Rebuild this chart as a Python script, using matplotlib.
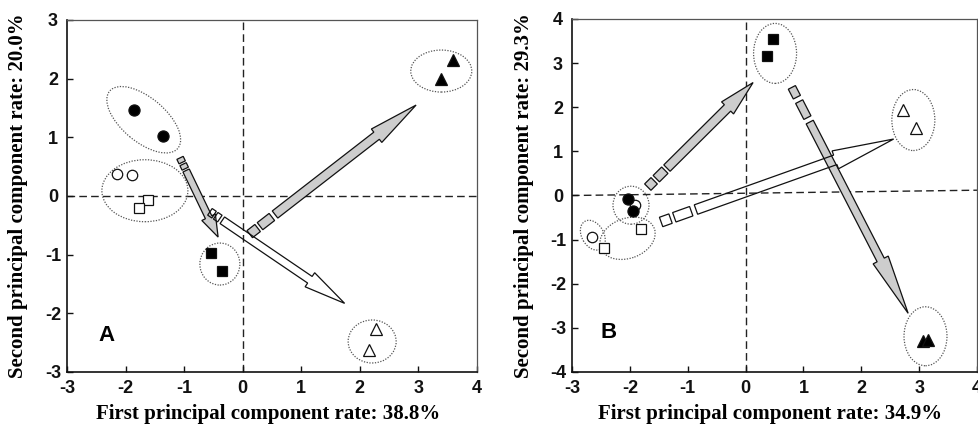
import numpy as np
import matplotlib

matplotlib.use("Agg")
import matplotlib.pyplot as plt
from matplotlib.patches import Ellipse, Polygon
from matplotlib.transforms import ScaledTranslation

# ---- data ------------------------------------------------------------------
# panel A  (PC1 38.8 %, PC2 20.0 %)
a_filled_circle = ([-1.86, -1.36], [1.47, 1.02])
a_open_circle = ([-2.14, -1.89], [0.37, 0.36])
a_open_square = ([-1.61, -1.77], [-0.06, -0.20])
a_filled_square = ([-0.54, -0.35], [-0.97, -1.28])
a_filled_triangle = ([3.59, 3.38], [2.32, 2.00])
a_open_triangle = ([2.27, 2.16], [-2.27, -2.62])

a_group_x = [-1.69, -1.67, -0.39, 3.39, 2.21]
a_group_y = [1.30, 0.09, -1.16, 2.13, -2.48]

a_arrow_start = [(-1.07, 0.65), (0.12, -0.65), (-0.56, -0.27)]
a_arrow_end = [(-0.42, -0.70), (2.96, 1.55), (1.74, -1.83)]

# panel B  (PC1 34.9 %, PC2 29.3 %)
b_filled_circle = ([-2.03, -1.95], [-0.08, -0.35])
b_open_circle = ([-1.91, -2.66], [-0.22, -0.94])
b_open_square = ([-1.81, -2.45], [-0.77, -1.18])
b_filled_square = ([0.47, 0.37], [3.55, 3.16])
b_open_triangle = ([2.72, 2.95], [1.94, 1.54])
b_filled_triangle = ([3.07, 3.16], [-3.29, -3.28])

b_group_x = [-1.98, -2.04, -2.64, 0.51, 2.90, 3.11]
b_group_y = [-0.22, -0.97, -0.90, 3.22, 1.71, -3.19]

b_arrow_start = [(-1.69, 0.19), (0.80, 2.45), (-1.46, -0.60)]
b_arrow_end = [(0.13, 2.56), (2.81, -2.67), (2.56, 1.28)]

b_hline_x = [-3, 4]
b_hline_y = [0.0, 0.12]

x_ticks = [-3, -2, -1, 0, 1, 2, 3, 4]
a_y_ticks = [-3, -2, -1, 0, 1, 2, 3]
b_y_ticks = [-4, -3, -2, -1, 0, 1, 2, 3, 4]

# ---- styling (pixel sizes, figure is drawn at 100 dpi) ----------------------
DPI = 100
GRAY = "#cdcdcd"
# ellipse (width px, height px, angle)
a_group_shape = [(89, 44, -40), (86, 62, 0), (40, 42, 0), (61, 42, 0), (48, 43, 0)]
b_group_shape = [(36, 38, 0), (57, 40, 20), (32, 22, -60), (43, 60, 0),
                 (43, 61, 0), (43, 59, 0)]
# arrow (shaft w, head w, head len, dashed pieces, shaft start, face)
a_arrow_style = [
    (7, 15, 22, [(0, 5), (7, 12)], 14, GRAY),
    (9, 17, 50, [(0, 10), (13, 28)], 32, GRAY),
    (8, 17, 42, [(0, 5), (7, 12)], 15, "none"),
]
b_arrow_style = [
    (9, 17, 36, [(0, 9), (12, 24)], 27, GRAY),
    (8, 17, 60, [(0, 11), (16, 34)], 39, GRAY),
    (10, 19, 62, [(0, 10), (14, 32)], 37, "none"),
]

TICK_FONT = dict(family="Liberation Sans", weight="bold", size=13)
LABEL_FONT = dict(family="Liberation Serif", weight="bold", size=15)
DASH = (0, (5.5, 3))


def block_arrow(ax, start, end, shaft_w, head_w, head_l, pieces, shaft_from, fc):
    """Hollow/filled block arrow with a broken start, built in pixel space."""
    to_px = ax.transData
    back = to_px.inverted()
    p0 = to_px.transform(start)
    p1 = to_px.transform(end)
    d = p1 - p0
    length = np.hypot(*d)
    u = d / length
    n = np.array([-u[1], u[0]])
    hw = shaft_w / 2

    def add(pts):
        ax.add_patch(Polygon(back.transform(np.array(pts)), closed=True,
                             fc=fc, ec="#111111", lw=0.9, zorder=3))

    for a, b in pieces:
        add([p0 + u * a + n * hw, p0 + u * b + n * hw,
             p0 + u * b - n * hw, p0 + u * a - n * hw])
    neck = p0 + u * (length - head_l)
    tail = p0 + u * shaft_from
    add([tail + n * hw, neck + n * hw, neck + n * head_w / 2, p1,
         neck - n * head_w / 2, neck - n * hw, tail - n * hw])


def group_ring(ax, cx, cy, w, h, ang):
    trans = fig.dpi_scale_trans + ScaledTranslation(cx, cy, ax.transData)
    ax.add_patch(Ellipse((0, 0), w / DPI, h / DPI, angle=ang, transform=trans,
                         fill=False, ec="#555555", lw=0.9, ls=(0, (1, 1.2)),
                         zorder=2))


def setup_axes(ax, yticks, xlabel, ylabel):
    ax.set_xlim(-3, 4)
    ax.set_ylim(yticks[0], yticks[-1])
    ax.set_xticks(x_ticks)
    ax.set_yticks(yticks)
    ax.set_xticklabels([str(t) for t in x_ticks], **TICK_FONT)
    ax.set_yticklabels([str(t) for t in yticks], ha="center", **TICK_FONT)
    ax.tick_params(direction="in", length=4, width=1, colors="#111111",
                   top=False, right=False)
    ax.tick_params(axis="x", pad=6)
    ax.tick_params(axis="y", pad=10)
    for side in ("left", "bottom"):
        ax.spines[side].set_linewidth(1.2)
        ax.spines[side].set_color("#111111")
    for side in ("top", "right"):
        ax.spines[side].set_linewidth(0.9)
        ax.spines[side].set_color("#555555")
    ax.set_xlabel(xlabel, **LABEL_FONT)
    ax.set_ylabel(ylabel, **LABEL_FONT)


def draw_points(ax, groups):
    for (xs, ys), marker, fc, ms in groups:
        ax.plot(xs, ys, ls="none", marker=marker, ms=ms, mfc=fc, mec="#111111",
                mew=0.9, zorder=4)


fig = plt.figure(figsize=(9.79, 4.3), dpi=DPI)
ax_a = fig.add_axes([67 / 979, 1 - 372 / 430, 410 / 979, 352 / 430])
ax_b = fig.add_axes([572 / 979, 1 - 372 / 430, 405 / 979, 353 / 430])

setup_axes(ax_a, a_y_ticks, "First principal component rate: 38.8%",
           "Second principal component rate: 20.0%")
setup_axes(ax_b, b_y_ticks, "First principal component rate: 34.9%",
           "Second principal component rate: 29.3%")
for ax in (ax_a, ax_b):
    ax.xaxis.set_label_coords(0.49, -0.09)
    ax.yaxis.set_label_coords(-0.095, 0.5)

# reference lines
ax_a.axhline(0, ls=DASH, color="#222222", lw=1, zorder=1)
ax_a.axvline(0, ls=DASH, color="#222222", lw=1, zorder=1)
ax_b.plot(b_hline_x, b_hline_y, ls=DASH, color="#222222", lw=1, zorder=1)
ax_b.axvline(0, ls=DASH, color="#222222", lw=1, zorder=1)

# dotted rings round each group
for cx, cy, shape in zip(a_group_x, a_group_y, a_group_shape):
    group_ring(ax_a, cx, cy, *shape)
for cx, cy, shape in zip(b_group_x, b_group_y, b_group_shape):
    group_ring(ax_b, cx, cy, *shape)

# arrows
for s, e, style in zip(a_arrow_start, a_arrow_end, a_arrow_style):
    block_arrow(ax_a, s, e, *style)
for s, e, style in zip(b_arrow_start, b_arrow_end, b_arrow_style):
    block_arrow(ax_b, s, e, *style)

draw_points(ax_a, [
    (a_open_circle, "o", "white", 7.5),
    (a_filled_circle, "o", "black", 8),
    (a_open_square, "s", "white", 6.5),
    (a_filled_square, "s", "black", 6.5),
    (a_filled_triangle, "^", "black", 8),
    (a_open_triangle, "^", "white", 8),
])
draw_points(ax_b, [
    (b_open_circle, "o", "white", 7.5),
    (b_filled_circle, "o", "black", 8),
    (b_open_square, "s", "white", 6.5),
    (b_filled_square, "s", "black", 6.5),
    (b_open_triangle, "^", "white", 8),
    (b_filled_triangle, "^", "black", 8),
])

ax_a.text(0.097, 0.105, "A", transform=ax_a.transAxes, ha="center", va="center",
          family="Liberation Sans", weight="bold", size=16)
ax_b.text(0.09, 0.111, "B", transform=ax_b.transAxes, ha="center", va="center",
          family="Liberation Sans", weight="bold", size=16)

fig.savefig("out.png", dpi=DPI)
